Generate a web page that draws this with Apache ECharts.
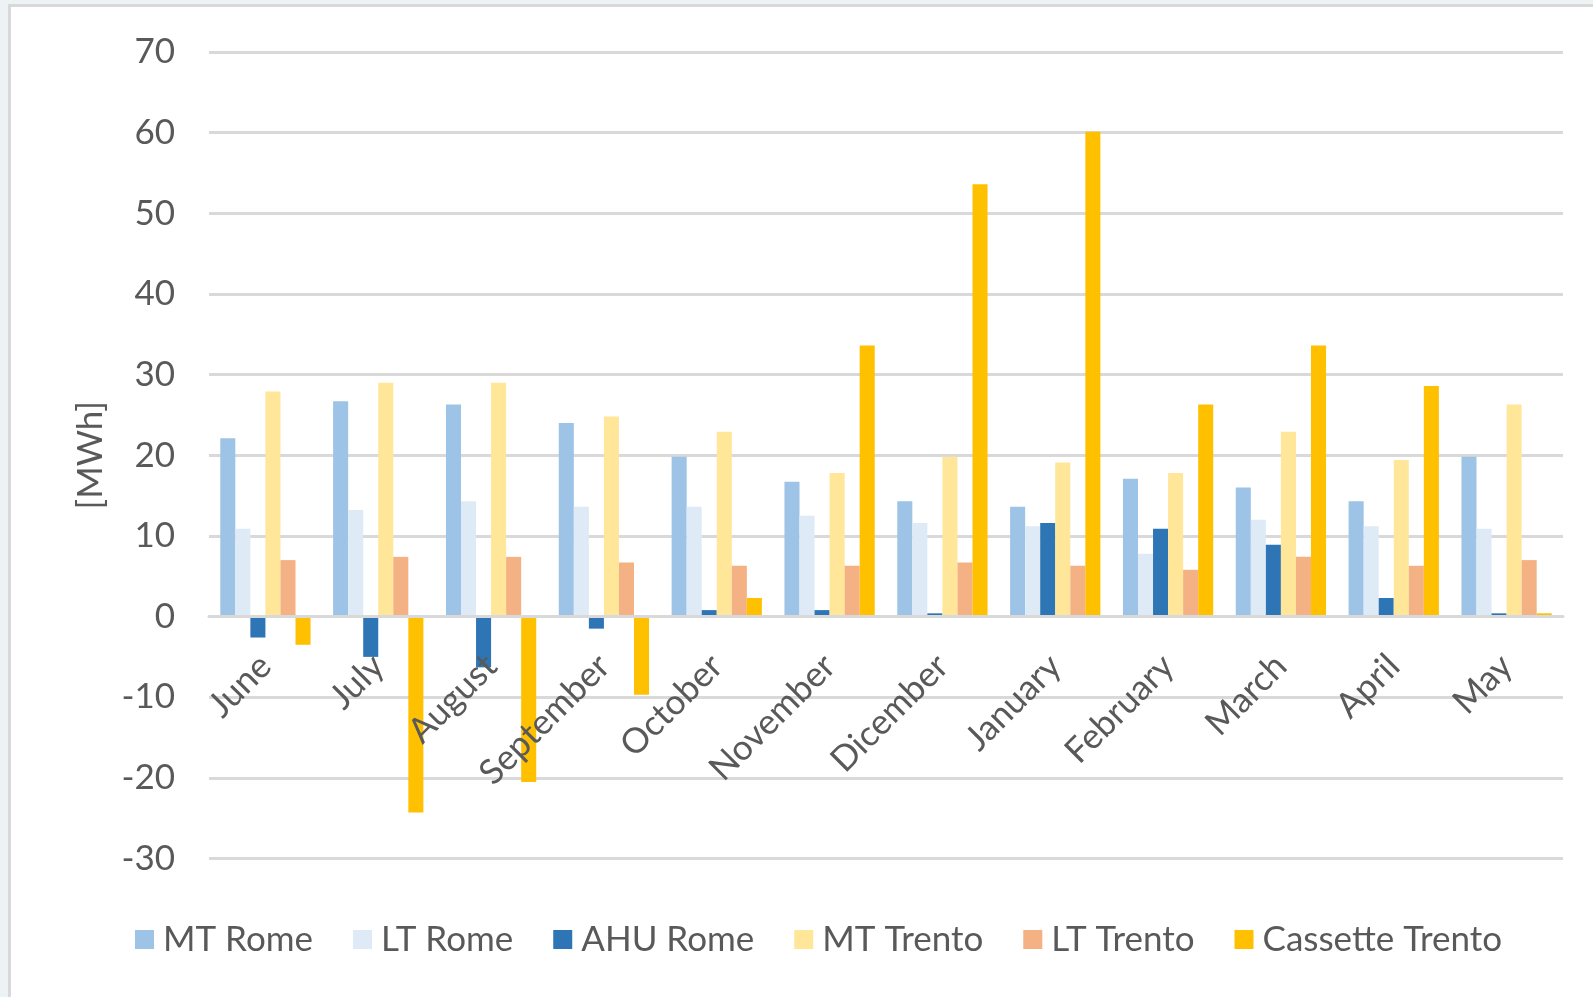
<!DOCTYPE html>
<html>
<head>
<meta charset="utf-8">
<script src="https://cdn.jsdelivr.net/npm/echarts@6/dist/echarts.min.js"></script>
<style>
  html, body { margin: 0; padding: 0; width: 1593px; height: 997px; overflow: hidden; background: #edf2f5; }
  #frame { position: absolute; left: 8px; top: 4px; width: 1600px; height: 1000px; background: #ffffff;
           border-top: 3px solid #d9d9d9; border-left: 3px solid #d9d9d9; }
  #chart { position: absolute; left: 0; top: 0; width: 1593px; height: 997px; }
</style>
</head>
<body>
<div id="frame"></div>
<div id="chart"></div>
<script>
const months = ['June','July','August','September','October','November','Dicember','January','February','March','April','May'];
const mtRome   = [22.1, 26.7, 26.3, 24.0, 19.8, 16.7, 14.3, 13.6, 17.1, 16.0, 14.3, 19.8];
const ltRome   = [10.9, 13.2, 14.3, 13.6, 13.6, 12.5, 11.6, 11.2, 7.8, 12.0, 11.2, 10.9];
const ahuRome  = [-2.6, -5.0, -6.3, -1.5, 0.8, 0.8, 0.4, 11.6, 10.9, 8.9, 2.3, 0.4];
const mtTrento = [27.9, 29.0, 29.0, 24.8, 22.9, 17.8, 19.8, 19.1, 17.8, 22.9, 19.4, 26.3];
const ltTrento = [7.0, 7.4, 7.4, 6.7, 6.3, 6.3, 6.7, 6.3, 5.8, 7.4, 6.3, 7.0];
const cassetteTrento = [-3.5, -24.3, -20.5, -9.7, 2.3, 33.6, 53.6, 60.1, 26.3, 33.6, 28.6, 0.4];
const yTicks = { min: -30, max: 70, step: 10 };

const seriesNames = ['MT Rome','LT Rome','AHU Rome','MT Trento','LT Trento','Cassette Trento'];
const seriesData = [mtRome, ltRome, ahuRome, mtTrento, ltTrento, cassetteTrento];
const colors = ['#9dc3e6','#deebf7','#2e75b6','#ffe699','#f4b183','#ffc000'];

const FONT = 'Lato, "Liberation Sans", sans-serif';
const GRID_TOP = 52, GRID_BOTTOM = 138.5;
const plotH = 997 - GRID_TOP - GRID_BOTTOM;
const zeroOffset = -plotH * (0 - yTicks.min) / (yTicks.max - yTicks.min);

const chart = echarts.init(document.getElementById('chart'), null, {renderer: 'canvas'});
chart.setOption({
  animation: false,
  backgroundColor: 'transparent',
  color: colors,
  grid: { left: 209, right: 30, top: GRID_TOP, bottom: GRID_BOTTOM, containLabel: false },
  legend: {
    data: seriesNames,
    left: 130, top: 917,
    itemWidth: 19, itemHeight: 19, itemGap: 40,
    icon: 'rect',
    textStyle: { fontFamily: FONT, fontSize: 35, color: '#595959', padding: [0,0,0,4] }
  },
  xAxis: {
    type: 'category',
    data: months,
    position: 'bottom',
    offset: zeroOffset,
    z: 10,
    axisLine: { onZero: false, lineStyle: { color: '#d9d9d9', width: 3 } },
    axisTick: { show: false },
    axisLabel: { rotate: 45, margin: 44, interval: 0, fontFamily: FONT, fontSize: 35, color: '#595959' }
  },
  yAxis: {
    type: 'value',
    min: yTicks.min, max: yTicks.max, interval: yTicks.step,
    name: '[MWh]',
    nameLocation: 'middle',
    nameGap: 101,
    nameTextStyle: { fontFamily: FONT, fontSize: 35, color: '#595959' },
    axisLine: { show: false },
    axisTick: { show: false },
    axisLabel: { margin: 34, fontFamily: FONT, fontSize: 35, color: '#595959' },
    splitLine: { lineStyle: { color: '#d9d9d9', width: 3 } }
  },
  series: seriesNames.map((n, i) => ({
    name: n,
    type: 'bar',
    data: seriesData[i],
    barGap: '0%',
    barCategoryGap: '20%',
    itemStyle: { color: colors[i] }
  }))
});
</script>
</body>
</html>
